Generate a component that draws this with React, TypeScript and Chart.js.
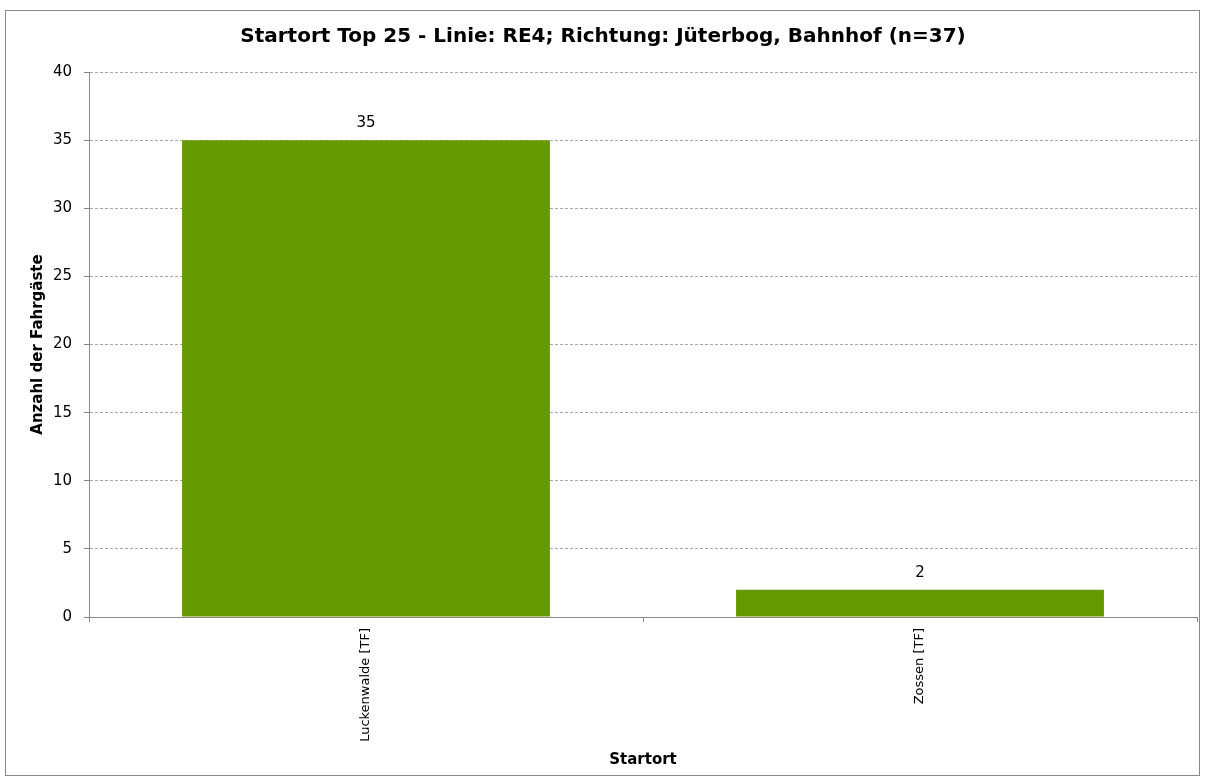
import React, { useEffect, useRef } from "react";
import { Chart, registerables } from "chart.js";

Chart.register(...registerables);

const categories = ["Luckenwalde [TF]", "Zossen [TF]"];
const values = [35, 2];
const yTicks = [0, 5, 10, 15, 20, 25, 30, 35, 40];
const titleText = "Startort Top 25 - Linie: RE4; Richtung: Jüterbog, Bahnhof (n=37)";
const yTitle = "Anzahl der Fahrgäste";
const xTitle = "Startort";

const FONT = "'DejaVu Sans', Verdana, sans-serif";

const decor = {
  id: "decor",
  afterDraw(chart: any) {
    const ctx = chart.ctx;
    const area = chart.chartArea;
    ctx.save();
    // outer border
    ctx.strokeStyle = "#888888";
    ctx.lineWidth = 1;
    ctx.strokeRect(5.5, 10.5, 1194, 765);
    // title
    ctx.fillStyle = "#000";
    ctx.textAlign = "center";
    ctx.textBaseline = "middle";
    ctx.font = `bold 20px ${FONT}`;
    ctx.fillText(titleText, 603, 37);
    // x title
    ctx.font = `bold 15px ${FONT}`;
    ctx.fillText(xTitle, (area.left + area.right) / 2, 760);
    // y title
    ctx.save();
    ctx.translate(38, (area.top + area.bottom) / 2);
    ctx.rotate(-Math.PI / 2);
    ctx.fillText(yTitle, 0, 0);
    ctx.restore();
    // data labels
    ctx.font = `15px ${FONT}`;
    const meta = chart.getDatasetMeta(0);
    meta.data.forEach((bar: any, i: number) => {
      ctx.fillText(String(values[i]), bar.x, bar.y - 17);
    });
    ctx.restore();
  },
};

export default function App() {
  const ref = useRef<HTMLCanvasElement>(null);
  useEffect(() => {
    document.body.style.margin = "0";
    const chart = new Chart(ref.current!, {
      type: "bar",
      data: {
        labels: categories,
        datasets: [
          {
            data: values,
            backgroundColor: "#669900",
            barPercentage: 0.664,
            categoryPercentage: 1,
          },
        ],
      },
      options: {
        responsive: false,
        animation: false,
        layout: { padding: { top: 72, right: 9, left: 0, bottom: 0 } },
        plugins: {
          legend: { display: false },
          tooltip: { enabled: false },
          title: { display: false },
        },
        scales: {
          x: {
            grid: {
              offset: true,
              drawOnChartArea: false,
              drawTicks: true,
              tickLength: 5,
              tickColor: "#888888",
            },
            border: { color: "#888888" },
            ticks: {
              minRotation: 90,
              maxRotation: 90,
              color: "#000",
              padding: 6,
              font: { family: FONT, size: 13 },
            },
            afterFit(scale: any) {
              scale.height = 165;
            },
          },
          y: {
            min: 0,
            max: 40,
            afterBuildTicks(scale: any) {
              scale.ticks = yTicks.map((v) => ({ value: v }));
            },
            grid: {
              color: "#a6a6a6",
              tickColor: "#888888",
              tickLength: 5,
              tickBorderDash: [],
            },
            border: { color: "#888888", dash: [3, 2] },
            ticks: {
              color: "#000",
              padding: 12,
              font: { family: FONT, size: 15 },
            },
            afterFit(scale: any) {
              scale.width = 89;
            },
          },
        },
      },
      plugins: [decor],
    } as any);
    return () => chart.destroy();
  }, []);
  return <canvas ref={ref} width={1206} height={782} style={{ display: "block", width: 1206, height: 782 }} />;
}
